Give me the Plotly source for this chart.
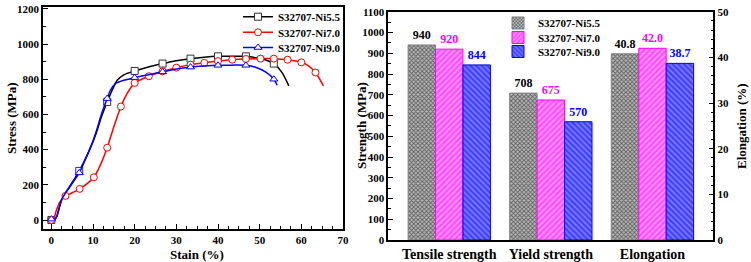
import plotly.graph_objects as go

# ---------------- data: stress-strain curves ----------------
series = ["S32707-Ni5.5", "S32707-Ni7.0", "S32707-Ni9.0"]

ni55_strain = [0, 0.8, 1.3, 1.8, 2.5, 3.3, 4.5, 5.5, 6.7, 8, 9, 10, 11, 12, 13.4, 14.6, 15.8, 17.4, 20,
               23.3, 26.7, 30, 33.4, 36.7, 40, 43.3, 46.7, 49, 51.3, 53.4, 55.3, 57]
ni55_stress = [0, 2, 20, 60, 115, 150, 195, 232, 279, 340, 390, 445, 510, 585, 671, 738, 794, 825, 847,
               870, 889, 905, 917, 925, 930, 931, 930, 922, 911, 889, 840, 762]
ni55_mk_strain = [0, 6.7, 13.4, 20, 26.7, 33.4, 40, 46.7, 53.4]
ni55_mk_stress = [0, 279, 671, 847, 889, 917, 930, 930, 889]

ni70_strain = [0, 0.6, 1.2, 2.0, 2.6, 3.4, 5, 6.8, 8.5, 10.2, 11.8, 13.4, 15, 16.7, 18.2, 20, 21.7, 23.4,
               26.7, 30, 33.4, 36.7, 40, 43.4, 46.7, 50.2, 53.4, 56.7, 60, 61.8, 63.4, 65.3]
ni70_stress = [0, 10, 55, 100, 120, 137, 155, 177, 205, 243, 315, 411, 530, 645, 719, 779, 800, 817,
               845, 866, 883, 893, 903, 911, 915, 917, 917, 911, 896, 875, 838, 762]
ni70_mk_strain = [0, 3.4, 6.8, 10.2, 13.4, 16.7, 20, 23.4, 26.7, 30, 33.4, 36.7, 40, 43.4, 46.7, 50.2,
                  53.4, 56.7, 60, 63.4]
ni70_mk_stress = [0, 137, 177, 243, 411, 645, 779, 817, 845, 866, 883, 893, 903, 911, 915, 917,
                  917, 911, 896, 838]

ni90_strain = [0, 0.8, 1.3, 1.8, 2.5, 3.3, 4.5, 5.5, 6.7, 8, 9, 10, 11, 12, 13.4, 14.2, 15.4, 17.4, 20,
               23.3, 26.7, 30, 33.4, 36.7, 40, 43.3, 46.7, 49, 51.5, 53.4, 54.2]
ni90_stress = [5, 3, 20, 65, 118, 150, 190, 225, 268, 335, 390, 450, 520, 600, 690, 738, 775, 794, 809,
               826, 842, 858, 869, 875, 879, 880, 879, 868, 840, 800, 766]
ni90_mk_strain = [0, 6.7, 13.4, 20, 26.7, 33.4, 40, 46.7, 53.4]
ni90_mk_stress = [5, 268, 690, 809, 842, 869, 879, 879, 800]

# ---------------- data: bar chart ----------------
categories = ["Tensile strength", "Yield strength", "Elongation"]
tensile = [940, 920, 844]
yield_strength = [708, 675, 570]
elongation = [40.8, 42.0, 38.7]

FONT = "Liberation Serif"
line_colors = ["#000000", "#ff0000", "#0000ff"]
marker_edge = ["#333333", "#ff0000", "#0000ff"]
symbols = ["square", "circle", "triangle-up"]

curves = [
    (ni55_strain, ni55_stress, ni55_mk_strain, ni55_mk_stress),
    (ni70_strain, ni70_stress, ni70_mk_strain, ni70_mk_stress),
    (ni90_strain, ni90_stress, ni90_mk_strain, ni90_mk_stress),
]

H = 262.0
W_FIG = 751.0


def px_x(v):
    return v / W_FIG


def px_y(v):
    return 1 - v / H


line_legends = ["legend", "legend3", "legend4"]
bar_legends = ["legend2", "legend5", "legend6"]
line_legend_y = [16.7, 32.3, 47.5]
bar_legend_y = [23.0, 37.5, 51.5]

fig = go.Figure()

for i, (sx, sy, mx, my) in enumerate(curves):
    fig.add_trace(go.Scatter(
        x=sx, y=sy, mode="lines", xaxis="x", yaxis="y",
        line=dict(color=line_colors[i], width=1.5, shape="spline", smoothing=0.8),
        showlegend=False, hoverinfo="skip"))
    fig.add_trace(go.Scatter(
        x=mx, y=my, mode="markers", xaxis="x", yaxis="y",
        marker=dict(symbol=symbols[i], size=7, color="white",
                    line=dict(color=marker_edge[i], width=1)),
        showlegend=False, cliponaxis=False))
    fig.add_trace(go.Scatter(
        x=[None], y=[None], mode="lines+markers", name=series[i], xaxis="x", yaxis="y",
        line=dict(color=line_colors[i], width=1.5),
        marker=dict(symbol=symbols[i], size=7, color="white",
                    line=dict(color=marker_edge[i], width=1)),
        legend=line_legends[i]))

# bars
patterns = [
    dict(shape="x", fgcolor="#000000", bgcolor="#bbbbbb", size=3, solidity=0.5),
    dict(shape="/", fgcolor="#ff00ff", bgcolor="#ff9cff", size=4, solidity=0.6),
    dict(shape="\\", fgcolor="#0000ff", bgcolor="#8080ff", size=4, solidity=0.6),
]
bar_edges = ["#808080", "#ff00ff", "#0000ff"]
label_colors = ["#000000", "#ff00ff", "#0000ff"]
W = 0.27
for i in range(3):
    off = -1.5 * W + i * W
    fig.add_trace(go.Bar(
        x=categories[:2], y=[tensile[i], yield_strength[i]], xaxis="x2", yaxis="y2",
        name=series[i], legend=bar_legends[i], width=W, offset=off,
        marker=dict(color=patterns[i]["bgcolor"], pattern=patterns[i],
                    line=dict(color=bar_edges[i], width=1)),
        texttemplate="%{y}", textposition="outside", constraintext="none", cliponaxis=False,
        textfont=dict(family=FONT, size=12, color=label_colors[i], weight="bold")))
    fig.add_trace(go.Bar(
        x=categories[2:], y=[elongation[i]], xaxis="x2", yaxis="y3",
        name=series[i], showlegend=False, width=W, offset=off,
        marker=dict(color=patterns[i]["bgcolor"], pattern=patterns[i],
                    line=dict(color=bar_edges[i], width=1)),
        texttemplate="%{y:.1f}", textposition="outside", constraintext="none", cliponaxis=False,
        textfont=dict(family=FONT, size=12, color=label_colors[i], weight="bold")))

tickfont = dict(family=FONT, size=11, color="black", weight="bold")
titlefont = dict(family=FONT, size=13, color="black", weight="bold")
legfont = dict(family=FONT, size=11, color="black", weight="bold")
axis_common = dict(showline=True, linecolor="black", linewidth=1.5, showgrid=False,
                   zeroline=False, tickfont=tickfont, ticks="inside", ticklen=5,
                   tickcolor="black", tickwidth=1, automargin=False)

annotations = [
    dict(text="Stain (%)", x=px_x(197), y=px_y(254)),
    dict(text="Stress (MPa)", x=px_x(11), y=px_y(118), textangle=-90),
    dict(text="Strength (MPa)", x=px_x(361), y=px_y(126), textangle=-90),
    dict(text="Elongation (%)", x=px_x(741), y=px_y(126), textangle=-90),
]
for a in annotations:
    a.update(xref="paper", yref="paper", xanchor="center", yanchor="middle",
             showarrow=False, font=titlefont)

legend_layout = {}
for i in range(3):
    legend_layout[line_legends[i]] = dict(
        x=px_x(238), y=px_y(line_legend_y[i]), xanchor="left", yanchor="middle",
        bgcolor="rgba(0,0,0,0)", font=legfont, itemwidth=30)
    legend_layout[bar_legends[i]] = dict(
        x=px_x(498), y=px_y(bar_legend_y[i]), xanchor="left", yanchor="middle",
        bgcolor="rgba(0,0,0,0)", font=legfont, itemwidth=30)

fig.update_layout(
    width=751, height=262,
    margin=dict(l=0, r=0, t=0, b=0, autoexpand=False),
    paper_bgcolor="white", plot_bgcolor="white",
    font=dict(family=FONT, color="black"),
    annotations=annotations,
    xaxis=dict(domain=[0.0573, 0.4567], range=[-2, 70], dtick=10, tick0=0, mirror=True,
               minor=dict(ticks="inside", ticklen=3, dtick=2.5, tickcolor="black"),
               anchor="y", **axis_common),
    yaxis=dict(domain=[0.126, 0.973], range=[-51, 1210], dtick=200, tick0=0, mirror=True,
               minor=dict(ticks="inside", ticklen=3, dtick=100, tickcolor="black"),
               anchor="x", **axis_common),
    xaxis2=dict(domain=[0.517, 0.950], range=[-0.6, 2.6], type="category",
                categoryorder="array", categoryarray=categories, mirror=True,
                showline=True, linecolor="black", linewidth=1.5, showgrid=False,
                zeroline=False, ticks="", ticklen=0, automargin=False,
                tickfont=dict(family=FONT, size=14, color="black", weight="bold"),
                anchor="y2"),
    yaxis2=dict(domain=[0.084, 0.955], range=[0, 1100], dtick=100, tick0=0,
                minor=dict(ticks="inside", ticklen=3, dtick=50, tickcolor="black"),
                anchor="x2", **axis_common),
    yaxis3=dict(range=[0, 50], dtick=10, tick0=0, overlaying="y2", side="right",
                minor=dict(ticks="inside", ticklen=3, dtick=2, tickcolor="black"),
                anchor="x2", **axis_common),
    showlegend=True,
    hovermode=False,
    **legend_layout,
)

fig.write_html("out.html",
               config={"displayModeBar": False},
               post_script="document.body.style.margin='0';document.body.style.overflow='hidden';")
